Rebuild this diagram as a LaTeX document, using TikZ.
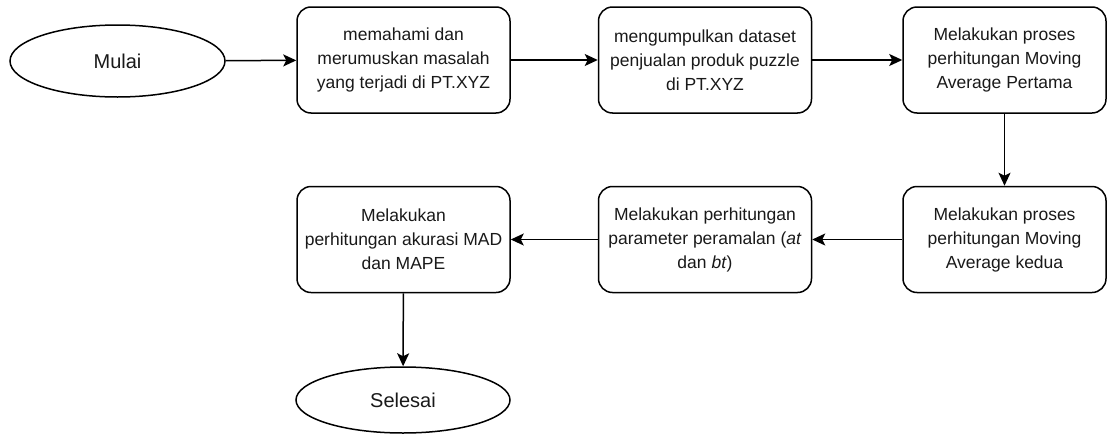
\documentclass[tikz,border=0pt]{standalone}
\usepackage{fontspec}
\setmainfont{Liberation Sans}
\usetikzlibrary{shapes.geometric,arrows.meta}
\begin{document}
\begin{tikzpicture}[x=1pt,y=-1pt,
 box/.style={draw, line width=1.5pt, rounded corners=14pt, minimum width=213pt, minimum height=106pt, align=center, font=\fontsize{17.5}{24}\selectfont, inner sep=0pt, text=black!90},
 oval/.style={draw, ellipse, line width=1.5pt, minimum width=215pt, minimum height=72pt, inner sep=0pt, font=\fontsize{20}{24}\selectfont, text=black!90},
 arr/.style={line width=1.5pt, -{Stealth[length=13pt,width=12pt,inset=3pt]}}]
\useasboundingbox (0,0) rectangle (1108,434);
\node[oval] (start) at (117.5,61) {Mulai};
\node[box] (b1) at (403.5,60) {memahami dan\\merumuskan masalah\\yang terjadi di PT.XYZ};
\node[box] (b2) at (705,60) {mengumpulkan dataset\\penjualan produk puzzle\\di PT.XYZ};
\node[box, minimum width=203pt] (b3) at (1004.5,60) {Melakukan proses\\perhitungan Moving\\Average Pertama};
\node[box, minimum width=203pt] (b4) at (1004.5,239.5) {Melakukan proses\\perhitungan Moving\\Average kedua};
\node[box] (b5) at (705,239.5) {Melakukan perhitungan\\parameter peramalan (\textit{at}\\dan \textit{bt})};
\node[box] (b6) at (403.5,239.5) {Melakukan\\perhitungan akurasi MAD\\dan MAPE};
\node[oval, minimum width=214pt, minimum height=66pt] (end) at (403,400) {Selesai};
\draw[arr] (start) -- (b1);
\draw[arr] (b1) -- (b2);
\draw[arr] (b2) -- (b3);
\draw[arr] (b3) -- (b4);
\draw[arr] (b4) -- (b5);
\draw[arr] (b5) -- (b6);
\draw[arr] (b6) -- (end);
\end{tikzpicture}
\end{document}
